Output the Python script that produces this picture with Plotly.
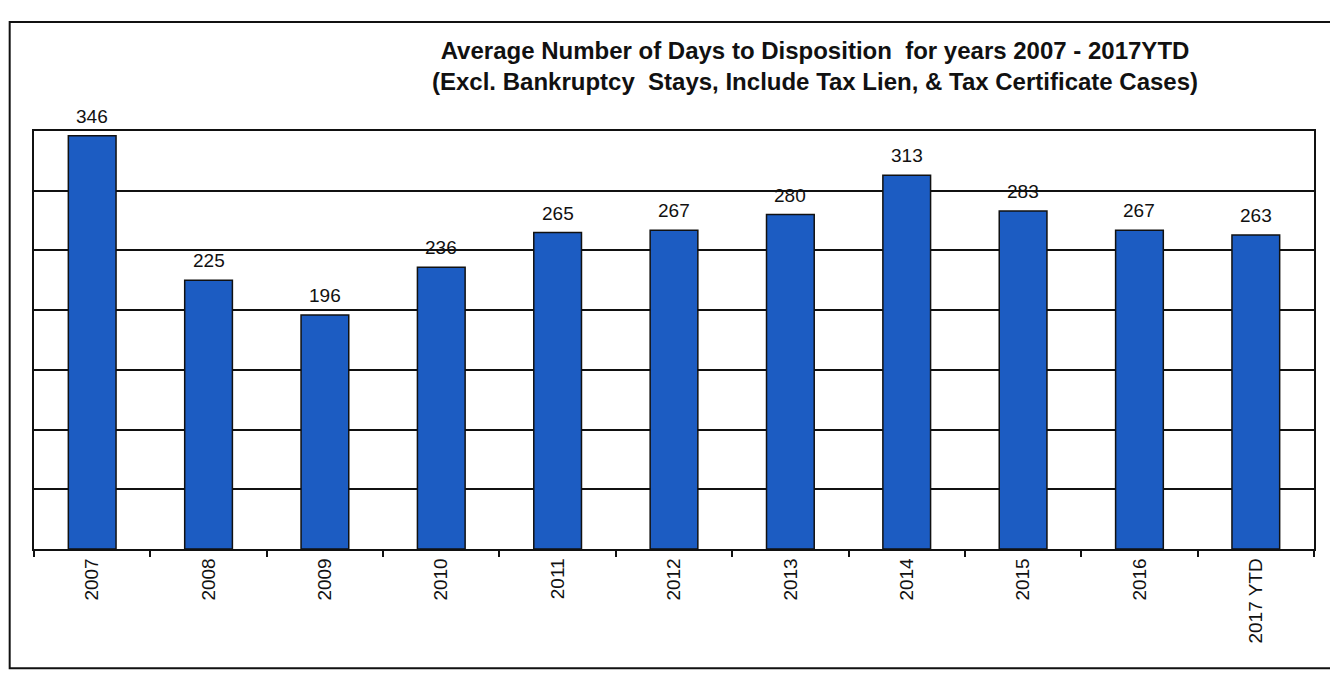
"""
Average number of days to disposition, 2007 - 2017 YTD
bar chart rebuilt with plotly
"""

import plotly.graph_objects as go

# data
years = ["2007", "2008", "2009", "2010", "2011", "2012",
         "2013", "2014", "2015", "2016", "2017 YTD"]
days = [346, 225, 196, 236, 265, 267, 280, 313, 283, 267, 263]

title_line1 = "Average Number of Days to Disposition  for years 2007 - 2017YTD"
title_line2 = "(Excl. Bankruptcy  Stays, Include Tax Lien, & Tax Certificate Cases)"

FONT = "Liberation Sans, Arial, sans-serif"

fig = go.Figure()
fig.add_trace(go.Bar(
    x=years,
    y=days,
    marker=dict(color="#1c5cc2", line=dict(color="#111111", width=1.5)),
))

# value labels sit a little higher above the bars than plotly's own text
# (x given as category index, "2007" would otherwise be read as a position)
for i, d in enumerate(days):
    fig.add_annotation(
        x=i, y=d, text=str(d), showarrow=False,
        yanchor="bottom", yshift=7,
        font=dict(family=FONT, size=19, color="#111111"),
    )

fig.update_layout(
    width=1338,
    height=677,
    margin=dict(l=26, r=32, t=123, b=136),
    paper_bgcolor="white",
    plot_bgcolor="white",
    bargap=0.59,
    showlegend=False,
    font=dict(family=FONT, color="#111111"),
)

fig.update_xaxes(
    type="category",
    range=[-0.5, len(years) - 0.5],
    showline=True, linecolor="#111111", linewidth=1.5,
    mirror=True,
    ticks="outside", tickson="boundaries", ticklen=6,
    tickcolor="#111111", tickwidth=1.5,
    tickangle=-90,
    tickfont=dict(family=FONT, size=19, color="#111111"),
)
fig.update_yaxes(
    range=[0, 350], dtick=50,
    showticklabels=False,
    showgrid=True, gridcolor="#111111", gridwidth=1.5,
    showline=True, linecolor="#111111", linewidth=1.5,
    mirror=True,
    zeroline=False,
)

# two line title, offset to the right like the original
fig.add_annotation(
    xref="paper", yref="paper", x=0.61, y=1.23,
    xanchor="center", yanchor="top", showarrow=False,
    text="<b>" + title_line1 + "</b><br><b>" + title_line2 + "</b>",
    font=dict(family=FONT, size=24, color="#111111"),
    align="center",
)

# outer frame round the whole chart
fig.add_shape(
    type="rect", xref="paper", yref="paper",
    x0=-0.019, x1=1.017, y0=-0.285, y1=1.261,
    line=dict(color="#111111", width=2),
)

fig.write_html("out.html")
